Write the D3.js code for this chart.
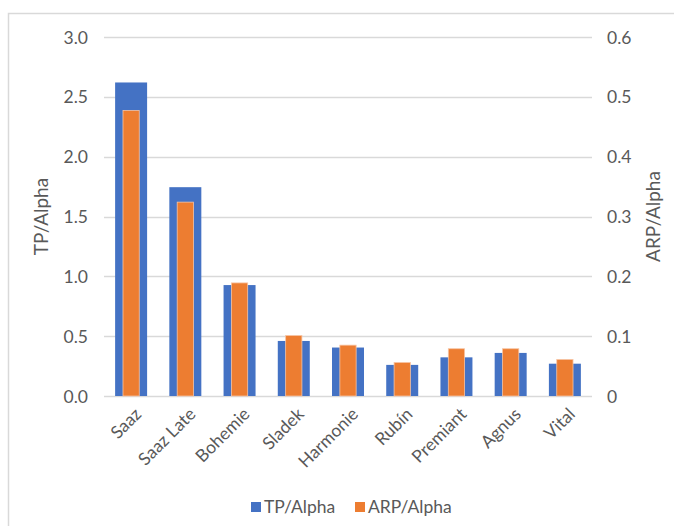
<!DOCTYPE html>
<html>
<head>
<meta charset="utf-8">
<script src="https://cdn.jsdelivr.net/npm/d3@7"></script>
<style>
  html, body { margin: 0; padding: 0; background: #fff; }
  svg { display: block; font-family: Lato, "Open Sans", sans-serif; }
</style>
</head>
<body>
<svg id="chart" width="674" height="526"></svg>
<script>
// Hop varieties and their ratios
const categories = ["Saaz", "Saaz Late", "Bohemie", "Sladek", "Harmonie", "Rubín", "Premiant", "Agnus", "Vital"];
const tpAlpha  = [2.62, 1.745, 0.927, 0.46, 0.405, 0.26, 0.323, 0.36, 0.27];
const arpAlpha = [0.477, 0.324, 0.189, 0.101, 0.085, 0.056, 0.079, 0.079, 0.061];
const leftTicks  = [0, 0.5, 1.0, 1.5, 2.0, 2.5, 3.0];
const rightTicks = [0, 0.1, 0.2, 0.3, 0.4, 0.5, 0.6];
const seriesNames = ["TP/Alpha", "ARP/Alpha"];

const blue = "#4472C4", orange = "#ED7D31", grid = "#d9d9d9", textColor = "#595959";
const fs = 17.5;

const svg = d3.select("#chart");
const plot = { left: 104, right: 592, top: 37, bottom: 396 };

// chart frame
svg.append("rect")
  .attr("x", 8.5).attr("y", 13.5)
  .attr("width", 700).attr("height", 600)
  .attr("fill", "none").attr("stroke", grid).attr("stroke-width", 1.5);

const x = d3.scaleBand().domain(categories).range([plot.left, plot.right]);
const yL = d3.scaleLinear().domain([0, 3]).range([plot.bottom, plot.top]);
const yR = d3.scaleLinear().domain([0, 0.6]).range([plot.bottom, plot.top]);

// gridlines
svg.append("g").selectAll("line").data(leftTicks).join("line")
  .attr("x1", plot.left).attr("x2", plot.right)
  .attr("y1", d => Math.round(yL(d)) + 0.5).attr("y2", d => Math.round(yL(d)) + 0.5)
  .attr("stroke", grid).attr("stroke-width", 1.5);

// left axis
const leftAxis = svg.append("g").attr("transform", `translate(${plot.left - 16},0)`)
  .call(d3.axisLeft(yL).tickValues(leftTicks).tickFormat(d3.format(".1f")).tickSize(0).tickPadding(0));
leftAxis.select(".domain").remove();
leftAxis.selectAll("text").attr("fill", textColor).attr("font-size", fs).attr("font-family", "Lato").attr("dy", "0.35em");

// right axis
const rightAxis = svg.append("g").attr("transform", `translate(${plot.right + 15},0)`)
  .call(d3.axisRight(yR).tickValues(rightTicks).tickFormat(d => d === 0 ? "0" : d3.format(".1f")(d)).tickSize(0).tickPadding(0));
rightAxis.select(".domain").remove();
rightAxis.selectAll("text").attr("fill", textColor).attr("font-size", fs).attr("font-family", "Lato").attr("dy", "0.35em");

// primary series: wide bars
const bw = x.bandwidth() * 0.59;
svg.append("g").selectAll("rect").data(categories).join("rect")
  .attr("x", (d) => x(d) + (x.bandwidth() - bw) / 2)
  .attr("width", bw)
  .attr("y", (d, i) => yL(tpAlpha[i]))
  .attr("height", (d, i) => plot.bottom - yL(tpAlpha[i]))
  .attr("fill", blue);

// secondary series: narrow bars on top
const ow = x.bandwidth() * 0.30;
svg.append("g").selectAll("rect").data(categories).join("rect")
  .attr("x", (d) => x(d) + (x.bandwidth() - ow) / 2)
  .attr("width", ow)
  .attr("y", (d, i) => yR(arpAlpha[i]))
  .attr("height", (d, i) => plot.bottom - yR(arpAlpha[i]))
  .attr("fill", orange)
  .attr("stroke", "#f7c4a3").attr("stroke-width", 0.8);

// category labels
svg.append("g").selectAll("text").data(categories).join("text")
  .attr("transform", d => `translate(${x(d) + x.bandwidth() / 2 + 7},${plot.bottom + 15}) rotate(-45)`)
  .attr("text-anchor", "end")
  .attr("dy", "0.35em")
  .attr("fill", textColor).attr("font-size", fs)
  .text(d => d);

// axis titles
svg.append("text")
  .attr("transform", `translate(48,${(plot.top + plot.bottom) / 2}) rotate(-90)`)
  .attr("text-anchor", "middle").attr("fill", textColor).attr("font-size", 19)
  .text(seriesNames[0]);
svg.append("text")
  .attr("transform", `translate(660,${(plot.top + plot.bottom) / 2}) rotate(-90)`)
  .attr("text-anchor", "middle").attr("fill", textColor).attr("font-size", 19)
  .text(seriesNames[1]);

// legend
const legend = svg.append("g");
const items = [{ name: seriesNames[0], color: blue, x: 251 }, { name: seriesNames[1], color: orange, x: 355 }];
items.forEach(it => {
  legend.append("rect").attr("x", it.x).attr("y", 502).attr("width", 10).attr("height", 10).attr("fill", it.color);
  legend.append("text").attr("x", it.x + 13).attr("y", 507).attr("dy", "0.35em")
    .attr("fill", textColor).attr("font-size", fs).text(it.name);
});
</script>
</body>
</html>
